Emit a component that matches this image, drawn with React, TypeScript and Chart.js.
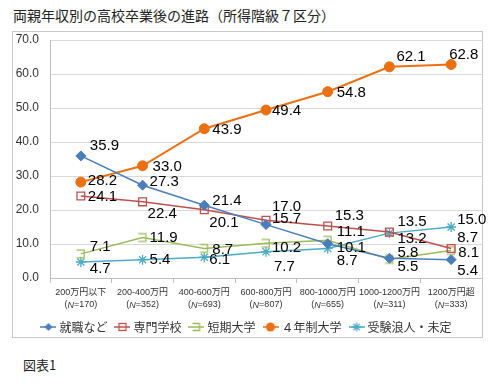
import { useEffect, useRef } from 'react';
import { Chart, registerables } from 'chart.js';
Chart.register(...registerables);

const titleText = '両親年収別の高校卒業後の進路（所得階級７区分）';
const footerText = '図表1';
const categories = ['200万円以下', '200-400万円', '400-600万円', '600-800万円', '800-1000万円', '1000-1200万円', '1200万円超'];
const sampleSizes = [170, 352, 693, 807, 655, 311, 333];
const seriesNames = ['就職など', '専門学校', '短期大学', '４年制大学', '受験浪人・未定'];
const employment = [35.9, 27.3, 21.4, 15.7, 10.1, 5.8, 5.4];
const vocational = [24.1, 22.4, 20.1, 17.0, 15.3, 13.5, 8.7];
const juniorCollege = [7.1, 11.9, 8.7, 10.2, 11.1, 5.5, 8.1];
const university = [28.2, 33.0, 43.9, 49.4, 54.8, 62.1, 62.8];
const undecided = [4.7, 5.4, 6.1, 7.7, 8.7, 13.2, 15.0];
const yTicks = [0, 10, 20, 30, 40, 50, 60, 70];

// label offsets (dx, dy) relative to each point, style only
const labelOffsets = [
  [[9, -10], [7, -3], [8, -4], [6, -6], [9, 4], [8, -5], [6, 11]],
  [[7, 1], [5, 12], [5, 13], [6, -13], [7, -10], [8, -10], [6, -11]],
  [[9, -7], [7, 0], [8, 1], [6, 5], [9, -8], [8, 8], [7, 2]],
  [[7, -1], [10, 1], [8, 1], [6, 1], [9, 1], [7, -10], [-2, -10]],
  [[9, 7], [7, 0], [5, 3], [8, 15], [9, 12], [8, 6], [6, -7]],
];

const BLUE = '#4A7EBB';
const RED = '#C0504D';
const GREEN = '#9BBB59';
const ORANGE = '#EB7012';
const CYAN = '#4BACC6';
const colors = [BLUE, RED, GREEN, ORANGE, CYAN];

function drawMarker(ctx: CanvasRenderingContext2D, i: number, x: number, y: number, s: number) {
  const c = colors[i];
  ctx.save();
  ctx.strokeStyle = c;
  ctx.fillStyle = c;
  ctx.lineWidth = 1.3;
  if (i === 0) {
    ctx.beginPath();
    ctx.moveTo(x - 4 * s, y); ctx.lineTo(x, y - 4 * s); ctx.lineTo(x + 4 * s, y); ctx.lineTo(x, y + 4 * s);
    ctx.closePath(); ctx.fill();
  } else if (i === 1) {
    ctx.strokeRect(x - 3.5 * s, y - 3.5 * s, 7 * s, 7 * s);
  } else if (i === 2) {
    ctx.beginPath();
    ctx.moveTo(x - 4 * s, y - 3.5 * s); ctx.lineTo(x + 3 * s, y - 3.5 * s); ctx.lineTo(x + 3 * s, y + 3.5 * s); ctx.lineTo(x - 4 * s, y + 3.5 * s);
    ctx.stroke();
  } else if (i === 3) {
    ctx.beginPath(); ctx.arc(x, y, 4.5 * s, 0, Math.PI * 2); ctx.fill();
  } else {
    const r = 4.5 * s;
    ctx.beginPath();
    for (let k = 0; k < 4; k++) {
      const a = (k * Math.PI) / 4;
      ctx.moveTo(x - Math.cos(a) * r, y - Math.sin(a) * r);
      ctx.lineTo(x + Math.cos(a) * r, y + Math.sin(a) * r);
    }
    ctx.stroke();
  }
  ctx.restore();
}

function makeLegendIcon(i: number) {
  const c = document.createElement('canvas');
  c.width = 16; c.height = 12;
  const ctx = c.getContext('2d')!;
  ctx.strokeStyle = colors[i];
  ctx.lineWidth = 1.5;
  ctx.beginPath(); ctx.moveTo(0, 6); ctx.lineTo(16, 6); ctx.stroke();
  drawMarker(ctx, i, 8, 6, 1);
  return c;
}

function makeGreenPoint() {
  const c = document.createElement('canvas');
  c.width = 12; c.height = 12;
  const ctx = c.getContext('2d')!;
  drawMarker(ctx, 2, 6, 6, 1.1);
  return c;
}

const LATIN = '"Liberation Sans", Arial, "Noto Sans CJK JP", sans-serif';
const JP = '"Noto Sans CJK JP", "Liberation Sans", sans-serif';

export default function App() {
  const ref = useRef<HTMLCanvasElement | null>(null);
  useEffect(() => {
    if (!ref.current) return;
    const seriesData = [employment, vocational, juniorCollege, university, undecided];
    const icons = seriesNames.map((_, i) => makeLegendIcon(i));
    const greenPt = makeGreenPoint();

    const labelsPlugin = {
      id: 'valueLabels',
      afterDatasetsDraw(chart: any) {
        const ctx = chart.ctx;
        ctx.save();
        ctx.font = `15px ${LATIN}`;
        ctx.fillStyle = '#000';
        ctx.textAlign = 'left';
        ctx.textBaseline = 'middle';
        chart.data.datasets.forEach((ds: any, di: number) => {
          const meta = chart.getDatasetMeta(di);
          meta.data.forEach((pt: any, j: number) => {
            const [dx, dy] = labelOffsets[di][j];
            ctx.fillText(Number(ds.data[j]).toFixed(1), pt.x + dx, pt.y + dy);
          });
        });
        ctx.restore();
      },
      afterDraw(chart: any) {
        const ctx = chart.ctx;
        const xs = chart.scales.x;
        const base = chart.chartArea.bottom;
        ctx.save();
        ctx.fillStyle = '#333';
        ctx.textBaseline = 'middle';
        categories.forEach((cat, i) => {
          const cx = xs.getPixelForValue(i);
          ctx.font = `9px ${LATIN}`;
          ctx.textAlign = 'center';
          ctx.fillText(cat, cx, base + 15);
          const p1 = '(';
          const p2 = 'N';
          const p3 = `=${sampleSizes[i]})`;
          ctx.font = `9px ${LATIN}`;
          const w1 = ctx.measureText(p1).width;
          const w3 = ctx.measureText(p3).width;
          ctx.font = `italic 9px ${LATIN}`;
          const w2 = ctx.measureText(p2).width;
          let x0 = cx - (w1 + w2 + w3) / 2;
          ctx.textAlign = 'left';
          ctx.font = `9px ${LATIN}`;
          ctx.fillText(p1, x0, base + 27);
          ctx.font = `italic 9px ${LATIN}`;
          ctx.fillText(p2, x0 + w1, base + 27);
          ctx.font = `9px ${LATIN}`;
          ctx.fillText(p3, x0 + w1 + w2, base + 27);
        });
        ctx.restore();
      },
    };

    const pointStyles: any[] = ['rectRot', 'rect', greenPt, 'circle', 'star'];
    const radii = [5, 5.5, 6, 5, 5];
    const chart = new Chart(ref.current, {
      type: 'line',
      data: {
        labels: categories,
        datasets: seriesData.map((d, i) => ({
          label: seriesNames[i],
          data: d,
          borderColor: colors[i],
          backgroundColor: i === 1 ? 'rgba(255,255,255,0)' : colors[i],
          pointBackgroundColor: i === 1 ? 'rgba(255,255,255,0)' : colors[i],
          pointBorderColor: colors[i],
          pointBorderWidth: i === 1 || i === 4 ? 1.3 : 1,
          borderWidth: i === 3 ? 2 : 1.5,
          pointStyle: pointStyles[i],
          pointRadius: radii[i],
          tension: 0,
          fill: false,
        })),
      },
      options: {
        animation: false,
        responsive: false,
        layout: { padding: { left: 13, right: 16, top: 40, bottom: 41 } },
        scales: {
          x: {
            type: 'category',
            offset: true,
            grid: { display: true, drawOnChartArea: false, drawTicks: true, tickLength: 5, color: '#bfbfbf', offset: true },
            border: { display: true, color: '#bfbfbf' },
            ticks: { display: false },
            afterFit(scale: any) { scale.height = 33; },
          },
          y: {
            min: 0,
            max: 70,
            afterBuildTicks(scale: any) { scale.ticks = yTicks.map((v) => ({ value: v })); },
            grid: { color: '#d9d9d9', drawTicks: false },
            border: { display: true, color: '#bfbfbf' },
            ticks: {
              padding: 11,
              color: '#333',
              font: { size: 12, family: LATIN },
              callback: (v: any) => Number(v).toFixed(1),
            },
            afterFit(scale: any) { scale.width = 37; },
          },
        },
        plugins: {
          title: { display: false },
          tooltip: { enabled: false },
          legend: {
            display: true,
            position: 'bottom',
            labels: {
              usePointStyle: true,
              pointStyleWidth: 10,
              boxHeight: 12,
              padding: 10,
              color: '#333',
              font: { size: 12, family: JP },
              generateLabels: () => seriesNames.map((n, i) => ({
                text: n,
                pointStyle: icons[i],
                fillStyle: colors[i],
                strokeStyle: colors[i],
                lineWidth: 0,
                hidden: false,
                datasetIndex: i,
                fontColor: '#333',
              })),
            },
          },
        },
      },
      plugins: [labelsPlugin],
    } as any);
    return () => chart.destroy();
  }, []);

  return (
    <div style={{ position: 'absolute', left: 0, top: 0, width: 498, height: 384, background: '#fff' }}>
      <div style={{ position: 'absolute', left: 13, top: 5, fontFamily: JP, fontSize: 14, lineHeight: '20px', color: '#222', whiteSpace: 'nowrap' }}>{titleText}</div>
      <div style={{ position: 'absolute', left: 12, top: 31, width: 469, height: 305, border: '1px solid #c8c8c8' }} />
      <div style={{ position: 'absolute', left: 23, top: 355, fontFamily: JP, fontSize: 13, lineHeight: '20px', color: '#222' }}>{footerText}</div>
      <canvas ref={ref} width={498} height={384} style={{ position: 'absolute', left: 0, top: 0, width: 498, height: 384 }} />
    </div>
  );
}
